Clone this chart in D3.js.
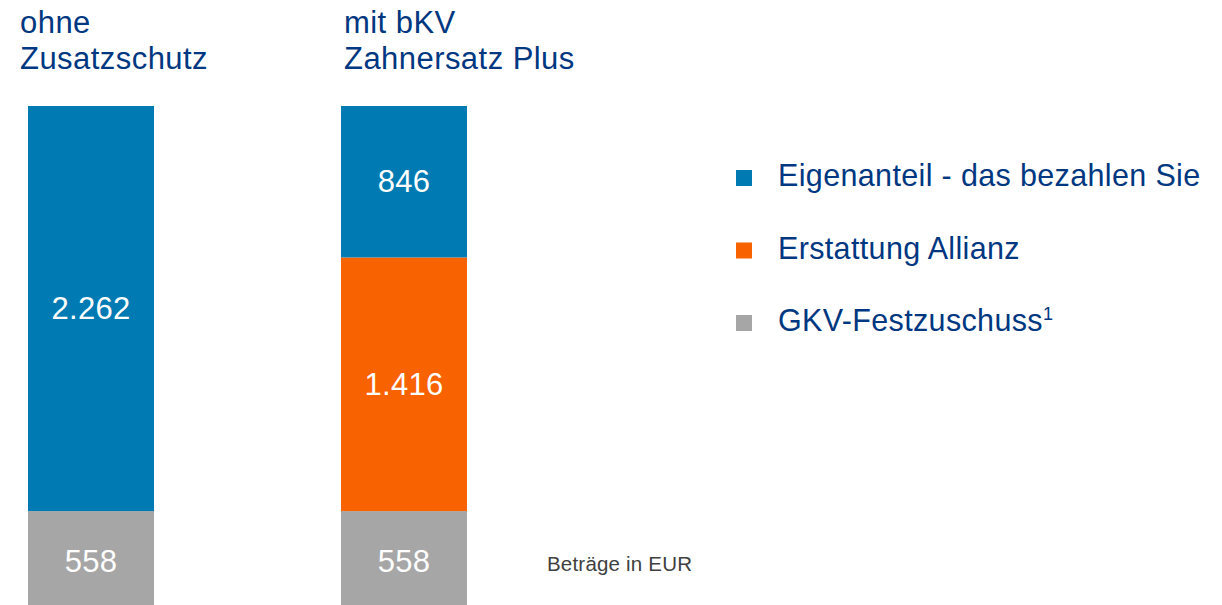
<!DOCTYPE html>
<html>
<head>
<meta charset="utf-8">
<script src="https://cdn.jsdelivr.net/npm/d3@7"></script>
<style>
  body { margin: 0; background: #fff; }
  svg text { font-family: "Liberation Sans", Arial, sans-serif; }
</style>
</head>
<body>
<div class="container"></div>
<script>
const WIDTH = 1222;
const HEIGHT = 605;

var categories = ["ohne Zusatzschutz", "mit bKV Zahnersatz Plus"];
var headerLines = [["ohne", "Zusatzschutz"], ["mit bKV", "Zahnersatz Plus"]];
var seriesNames = ["GKV-Festzuschuss", "Erstattung Allianz", "Eigenanteil - das bezahlen Sie"];
var festzuschuss = [558, 558];
var erstattung = [0, 1416];
var eigenanteil = [2262, 846];
var valueLabels = [["558", "558"], ["", "1.416"], ["2.262", "846"]];
var colors = ["#a6a6a6", "#f86200", "#007ab3"];
var legendOrder = [2, 1, 0];

var textBlue = "#003781";

var rows = categories.map((c, i) => ({
    cat: c,
    "GKV-Festzuschuss": festzuschuss[i],
    "Erstattung Allianz": erstattung[i],
    "Eigenanteil - das bezahlen Sie": eigenanteil[i]
}));

var stack = d3.stack().keys(seriesNames);
var stacked = stack(rows);

var xScale = d3.scaleBand()
    .domain(categories)
    .range([28, 467])
    .paddingInner(0.5974)
    .paddingOuter(0);

var yScale = d3.scaleLinear()
    .domain([0, 2820])
    .range([611, 106]);

var svg = d3.select('.container').append('svg')
    .attr('width', WIDTH)
    .attr('height', HEIGHT);

var layers = svg.selectAll('g.layer').data(stacked).enter()
    .append('g')
    .classed('layer', true)
    .attr('fill', (d, i) => colors[i]);

layers.selectAll('rect').data(d => d).enter()
    .append('rect')
    .attr('x', d => xScale(d.data.cat))
    .attr('y', d => yScale(d[1]))
    .attr('width', xScale.bandwidth())
    .attr('height', d => yScale(d[0]) - yScale(d[1]));

// value labels inside segments
layers.each(function(layer, li) {
    d3.select(this).selectAll('text').data(layer).enter()
        .append('text')
        .attr('x', d => xScale(d.data.cat) + xScale.bandwidth() / 2)
        .attr('y', d => (yScale(d[0]) + yScale(d[1])) / 2)
        .attr('text-anchor', 'middle')
        .attr('dominant-baseline', 'central')
        .attr('fill', '#fff')
        .attr('font-size', 31)
        .attr('letter-spacing', 0.3)
        .text((d, i) => valueLabels[li][i]);
});

// column headers
var headerX = [20, 344];
headerLines.forEach(function(lines, i) {
    var t = svg.append('text')
        .attr('x', headerX[i])
        .attr('y', 33)
        .attr('fill', textBlue)
        .attr('font-size', 31)
        .attr('letter-spacing', 0.45);
    lines.forEach(function(line, j) {
        t.append('tspan')
            .attr('x', headerX[i])
            .attr('dy', j === 0 ? 0 : 36)
            .text(line);
    });
});

// legend
var legendY = d3.scalePoint()
    .domain(legendOrder)
    .range([178, 323]);

var legend = svg.selectAll('g.legend').data(legendOrder).enter()
    .append('g')
    .classed('legend', true)
    .attr('transform', d => `translate(736,${legendY(d)})`);

legend.append('rect')
    .attr('x', 0)
    .attr('y', -8)
    .attr('width', 16)
    .attr('height', 16)
    .attr('fill', d => colors[d]);

var legendText = legend.append('text')
    .attr('x', 42)
    .attr('y', 8)
    .attr('fill', textBlue)
    .attr('font-size', 30.5)
    .attr('letter-spacing', 0.35)
    .text(d => seriesNames[d]);

legendText.filter(d => d === 0)
    .append('tspan')
    .attr('dy', -11)
    .attr('font-size', 18)
    .text('1');

svg.append('text')
    .attr('x', 547)
    .attr('y', 571)
    .attr('fill', '#404040')
    .attr('font-size', 20.5)
    .attr('letter-spacing', 0.2)
    .text('Beträge in EUR');
</script>
</body>
</html>
